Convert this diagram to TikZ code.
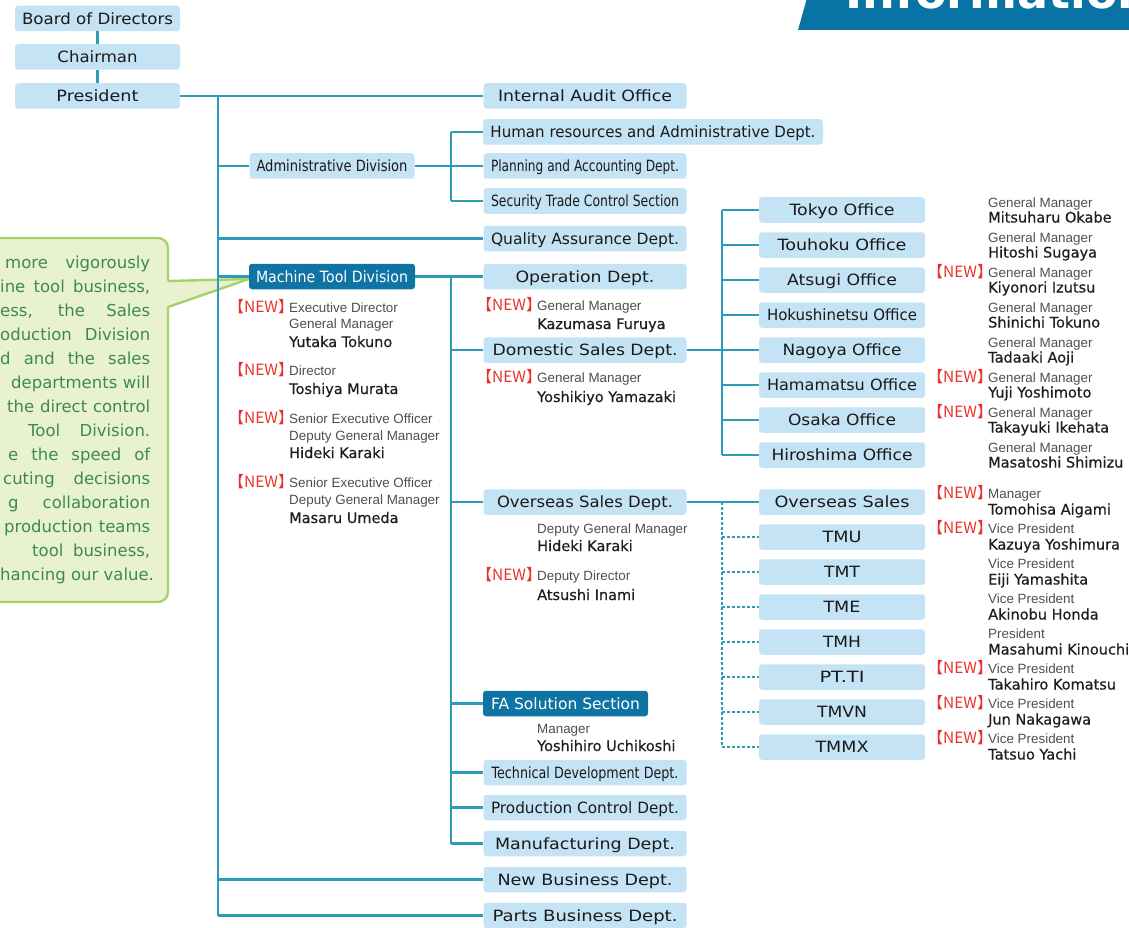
\documentclass[tikz,border=0pt]{standalone}
\usepackage{fontspec}
\usepackage{graphicx}
\setmainfont{DejaVu Sans}
\newfontfamily\boxfont{DejaVu Sans}
\newfontfamily\ttlfont{Liberation Sans}
\newfontfamily\nmfont[FakeBold=0.5]{DejaVu Sans}
\newfontfamily\cjkfont{Noto Sans CJK JP}
\newfontfamily\calfont{DejaVu Sans}
\newcommand\fw[2]{\resizebox{#1pt}{\height}{#2}}
\newcommand\newtag{\kern-.5em【NEW】\kern-.5em}
\definecolor{boxblue}{HTML}{C4E3F5}
\definecolor{lineblue}{HTML}{2F9AB8}
\definecolor{darkbox}{HTML}{0F74A4}
\definecolor{newred}{HTML}{E8312B}
\definecolor{calfill}{HTML}{E9F2CE}
\definecolor{caledge}{HTML}{A9D16B}
\definecolor{caltext}{HTML}{3D8B4A}
\definecolor{titlegray}{HTML}{4E4E4E}
\definecolor{namecol}{HTML}{1E1E1E}
\definecolor{txt}{HTML}{1A1A1A}
\definecolor{banner}{HTML}{0A73A5}
\begin{document}
\begin{tikzpicture}[x=1pt,y=-1pt,
  box/.style={fill=boxblue, rounded corners=3pt, inner sep=0pt, minimum height=25.5pt,
    text=txt, font=\boxfont\fontsize{15.5}{18}\selectfont, text height=11.3pt, text depth=0pt},
  dbox/.style={box, fill=darkbox, text=white},
  ln/.style={draw=lineblue, line width=2.2pt},
  dln/.style={draw=lineblue, line width=1.6pt, dash pattern=on 3pt off 2pt},
  ttl/.style={font=\ttlfont\fontsize{13.4}{15}\selectfont, text=titlegray, anchor=base west, inner sep=0pt},
  nm/.style={font=\nmfont\fontsize{14.5}{17}\selectfont, text=namecol, anchor=base west, inner sep=0pt},
  nw/.style={font=\cjkfont\fontsize{15.5}{17}\selectfont, text=newred, anchor=base east, inner sep=0pt},
  cal/.style={font=\calfont\fontsize{16.5}{24}\selectfont, text=caltext, anchor=base west, inner sep=0pt},
  caledgeline/.style={draw=caledge, line width=2.4pt, line join=round}
]
\useasboundingbox (0,0) rectangle (1129,928);

% banner
\fill[banner] (807,-2) -- (1131,-2) -- (1131,30) -- (798,30) -- cycle;
\node[anchor=base west, inner sep=0pt, text=white, font=\boxfont\bfseries\fontsize{46}{50}\selectfont] (info) at (845,9) {Information};

% callout
\draw[caledgeline, fill=calfill, rounded corners=10pt] (-20,238) rectangle (168,602);
\fill[calfill] (165,281) -- (249,279) -- (165,307) -- cycle;
\draw[caledgeline] (168,281) -- (249,279) -- (168,307);
\node[cal] (c1) at (5,268) {\makebox[145pt][s]{more vigorously}};
\node[cal] (c2) at (0,292) {\makebox[150pt][s]{ine tool business,}};
\node[cal] (c3) at (0,316) {\makebox[150pt][s]{ess, the Sales}};
\node[cal] (c4) at (0,340) {\makebox[150pt][s]{oduction Division}};
\node[cal] (c5) at (0,364) {\makebox[150pt][s]{d and the sales}};
\node[cal] (c6) at (11,388) {\makebox[139pt][s]{departments will}};
\node[cal] (c7) at (7,412) {\makebox[143pt][s]{the direct control}};
\node[cal] (c8) at (28,436) {\makebox[122pt][s]{Tool Division.}};
\node[cal] (c9) at (8,460) {\makebox[142pt][s]{e the speed of}};
\node[cal] (c10) at (3,484) {\makebox[147pt][s]{cuting decisions}};
\node[cal] (c11) at (8,508) {\makebox[142pt][s]{g collaboration}};
\node[cal] (c12) at (4,532) {\makebox[146pt][s]{production teams}};
\node[cal] (c13) at (32,556) {\makebox[118pt][s]{tool business,}};
\node[cal] (c14) at (0,580) {hancing our value.};

% left column
\node[box, minimum width=165pt] (board) at (97.5,18.5) {\fw{151}{Board of Directors}};
\node[box, minimum width=165pt] (chair) at (97.5,57) {\fw{80}{Chairman}};
\node[box, minimum width=165pt] (pres) at (97.5,96) {\fw{82}{President}};

% second level
\node[box, minimum width=203pt] (audit) at (585,96) {\fw{174}{Internal Audit Office}};
\node[box, minimum width=165pt] (admin) at (332,166) {\fw{151}{Administrative Division}};
\node[box, minimum width=340pt] (hr) at (653,132) {\fw{325}{Human resources and Administrative Dept.}};
\node[box, minimum width=203pt] (plan) at (585,166) {\fw{188}{Planning and Accounting Dept.}};
\node[box, minimum width=203pt] (sec) at (585,201) {\fw{188}{Security Trade Control Section}};
\node[box, minimum width=203pt] (qa) at (585,238.5) {\fw{188}{Quality Assurance Dept.}};
\node[dbox, minimum width=166pt] (mtd) at (332,276.5) {\fw{152}{Machine Tool Division}};
\node[box, minimum width=203pt] (op) at (585,276.5) {\fw{139}{Operation Dept.}};
\node[box, minimum width=203pt] (dom) at (585,350) {\fw{185}{Domestic Sales Dept.}};
\node[box, minimum width=203pt] (ovs) at (585,502) {\fw{176}{Overseas Sales Dept.}};
\node[dbox, minimum width=165pt] (fa) at (565.5,703.5) {\fw{149}{FA Solution Section}};
\node[box, minimum width=203pt] (tech) at (585,772.5) {\fw{187}{Technical Development Dept.}};
\node[box, minimum width=203pt] (prod) at (585,807.5) {\fw{188}{Production Control Dept.}};
\node[box, minimum width=203pt] (manu) at (585,843.5) {\fw{180}{Manufacturing Dept.}};
\node[box, minimum width=203pt] (newb) at (585,879.5) {\fw{175}{New Business Dept.}};
\node[box, minimum width=203pt] (parts) at (585,915.5) {\fw{185}{Parts Business Dept.}};

% offices
\node[box, minimum width=166pt] (tokyo) at (842,210) {\fw{105}{Tokyo Office}};
\node[box, minimum width=166pt] (touhoku) at (842,245) {\fw{129}{Touhoku Office}};
\node[box, minimum width=166pt] (atsugi) at (842,280) {\fw{110}{Atsugi Office}};
\node[box, minimum width=166pt] (hoku) at (842,315) {\fw{150}{Hokushinetsu Office}};
\node[box, minimum width=166pt] (nagoya) at (842,350) {\fw{119}{Nagoya Office}};
\node[box, minimum width=166pt] (hama) at (842,385) {\fw{150}{Hamamatsu Office}};
\node[box, minimum width=166pt] (osaka) at (842,420) {\fw{108}{Osaka Office}};
\node[box, minimum width=166pt] (hiro) at (842,455) {\fw{141}{Hiroshima Office}};
\node[box, minimum width=166pt] (ovsales) at (842,502) {\fw{135}{Overseas Sales}};
\node[box, minimum width=166pt] (tmu) at (842,537) {\fw{39}{TMU}};
\node[box, minimum width=166pt] (tmt) at (842,572) {\fw{36}{TMT}};
\node[box, minimum width=166pt] (tme) at (842,607) {\fw{37}{TME}};
\node[box, minimum width=166pt] (tmh) at (842,642) {\fw{38}{TMH}};
\node[box, minimum width=166pt] (ptti) at (842,677) {\fw{45}{PT.TI}};
\node[box, minimum width=166pt] (tmvn) at (842,712) {\fw{50}{TMVN}};
\node[box, minimum width=166pt] (tmmx) at (842,747) {\fw{53}{TMMX}};

% connectors
\coordinate (mv) at (218,0);
\coordinate (av) at (451,0);
\coordinate (dv) at (722,0);
\draw[ln] (board) -- (chair);
\draw[ln] (chair) -- (pres);
\draw[ln] (pres.east) -- (audit.west);
\draw[ln] (pres.east -| mv) -- (parts.west -| mv);
\foreach \n in {admin, qa, mtd, newb, parts} \draw[ln] (\n.west -| mv) -- (\n.west);
\draw[ln] (admin.east) -- (admin.east -| av);
\draw[ln] (hr.west -| av) -- (sec.west -| av);
\foreach \n in {hr, plan, sec} \draw[ln] (\n.west -| av) -- (\n.west);
\draw[ln] (mtd.east) -- (op.west);
\draw[ln] (op.west -| av) -- (manu.west -| av);
\foreach \n in {dom, ovs, fa, tech, prod, manu} \draw[ln] (\n.west -| av) -- (\n.west);
\draw[ln] (dom.east) -- (dom.east -| dv);
\draw[ln] (tokyo.west -| dv) -- (hiro.west -| dv);
\foreach \n in {tokyo, touhoku, atsugi, hoku, nagoya, hama, osaka, hiro} \draw[ln] (\n.west -| dv) -- (\n.west);
\draw[ln] (ovs.east) -- (ovsales.west);
\draw[dln] (ovsales.west -| dv) -- (tmmx.west -| dv);
\foreach \n in {tmu, tmt, tme, tmh, ptti, tmvn, tmmx} \draw[dln] (\n.west -| dv) -- (\n.west);

% Machine Tool Division people
\node[nw] (mn1) at (286,312) {\newtag};
\node[ttl] (mt1a) at (289,312) {Executive Director};
\node[ttl] (mt1b) at (289,328) {General Manager};
\node[nm] (mp1) at (289,347) {Yutaka Tokuno};
\node[nw] (mn2) at (286,375) {\newtag};
\node[ttl] (mt2) at (289,375) {Director};
\node[nm] (mp2) at (289,394) {Toshiya Murata};
\node[nw] (mn3) at (286,423) {\newtag};
\node[ttl] (mt3a) at (289,423) {Senior Executive Officer};
\node[ttl] (mt3b) at (289,440) {Deputy General Manager};
\node[nm] (mp3) at (289,458) {Hideki Karaki};
\node[nw] (mn4) at (286,487) {\newtag};
\node[ttl] (mt4a) at (289,487) {Senior Executive Officer};
\node[ttl] (mt4b) at (289,504) {Deputy General Manager};
\node[nm] (mp4) at (289,523) {Masaru Umeda};

% department people
\node[nw] (on1) at (534,310) {\newtag};
\node[ttl] (ot1) at (537,310) {General Manager};
\node[nm] (op1) at (537,329) {Kazumasa Furuya};
\node[nw] (dn1) at (534,382) {\newtag};
\node[ttl] (dt1) at (537,382) {General Manager};
\node[nm] (dp1) at (537,402) {Yoshikiyo Yamazaki};
\node[ttl] (vt1) at (537,533) {Deputy General Manager};
\node[nm] (vp1) at (537,551) {Hideki Karaki};
\node[nw] (vn2) at (534,580) {\newtag};
\node[ttl] (vt2) at (537,580) {Deputy Director};
\node[nm] (vp2) at (537,600) {Atsushi Inami};
\node[ttl] (ft1) at (537,733) {Manager};
\node[nm] (fp1) at (537,751) {Yoshihiro Uchikoshi};

% right column people
\foreach \c/\t/\n [count=\i] in {210/General Manager/Mitsuharu Okabe, 245/General Manager/Hitoshi Sugaya,
  280/General Manager/Kiyonori Izutsu, 315/General Manager/Shinichi Tokuno, 350/General Manager/Tadaaki Aoji,
  385/General Manager/Yuji Yoshimoto, 420/General Manager/Takayuki Ikehata, 455/General Manager/Masatoshi Shimizu}
{
  \node[ttl] (rt\i) at (988,\c-2.5) {\t};
  \node[nm] (rp\i) at (988,\c+12.5) {\n};
}
\foreach \c/\t/\n [count=\i] in {502/Manager/Tomohisa Aigami, 537/Vice President/Kazuya Yoshimura,
  572/Vice President/Eiji Yamashita, 607/Vice President/Akinobu Honda, 642/President/Masahumi Kinouchi,
  677/Vice President/Takahiro Komatsu, 712/Vice President/Jun Nakagawa, 747/Vice President/Tatsuo Yachi}
{
  \node[ttl] (st\i) at (988,\c-3.5) {\t};
  \node[nm] (sp\i) at (988,\c+12.5) {\n};
}
\foreach \c [count=\i] in {277.5, 382.5, 417.5, 498.5, 533.5, 673.5, 708.5, 743.5}
  \node[nw] (rn\i) at (985,\c) {\newtag};
\end{tikzpicture}
\end{document}
